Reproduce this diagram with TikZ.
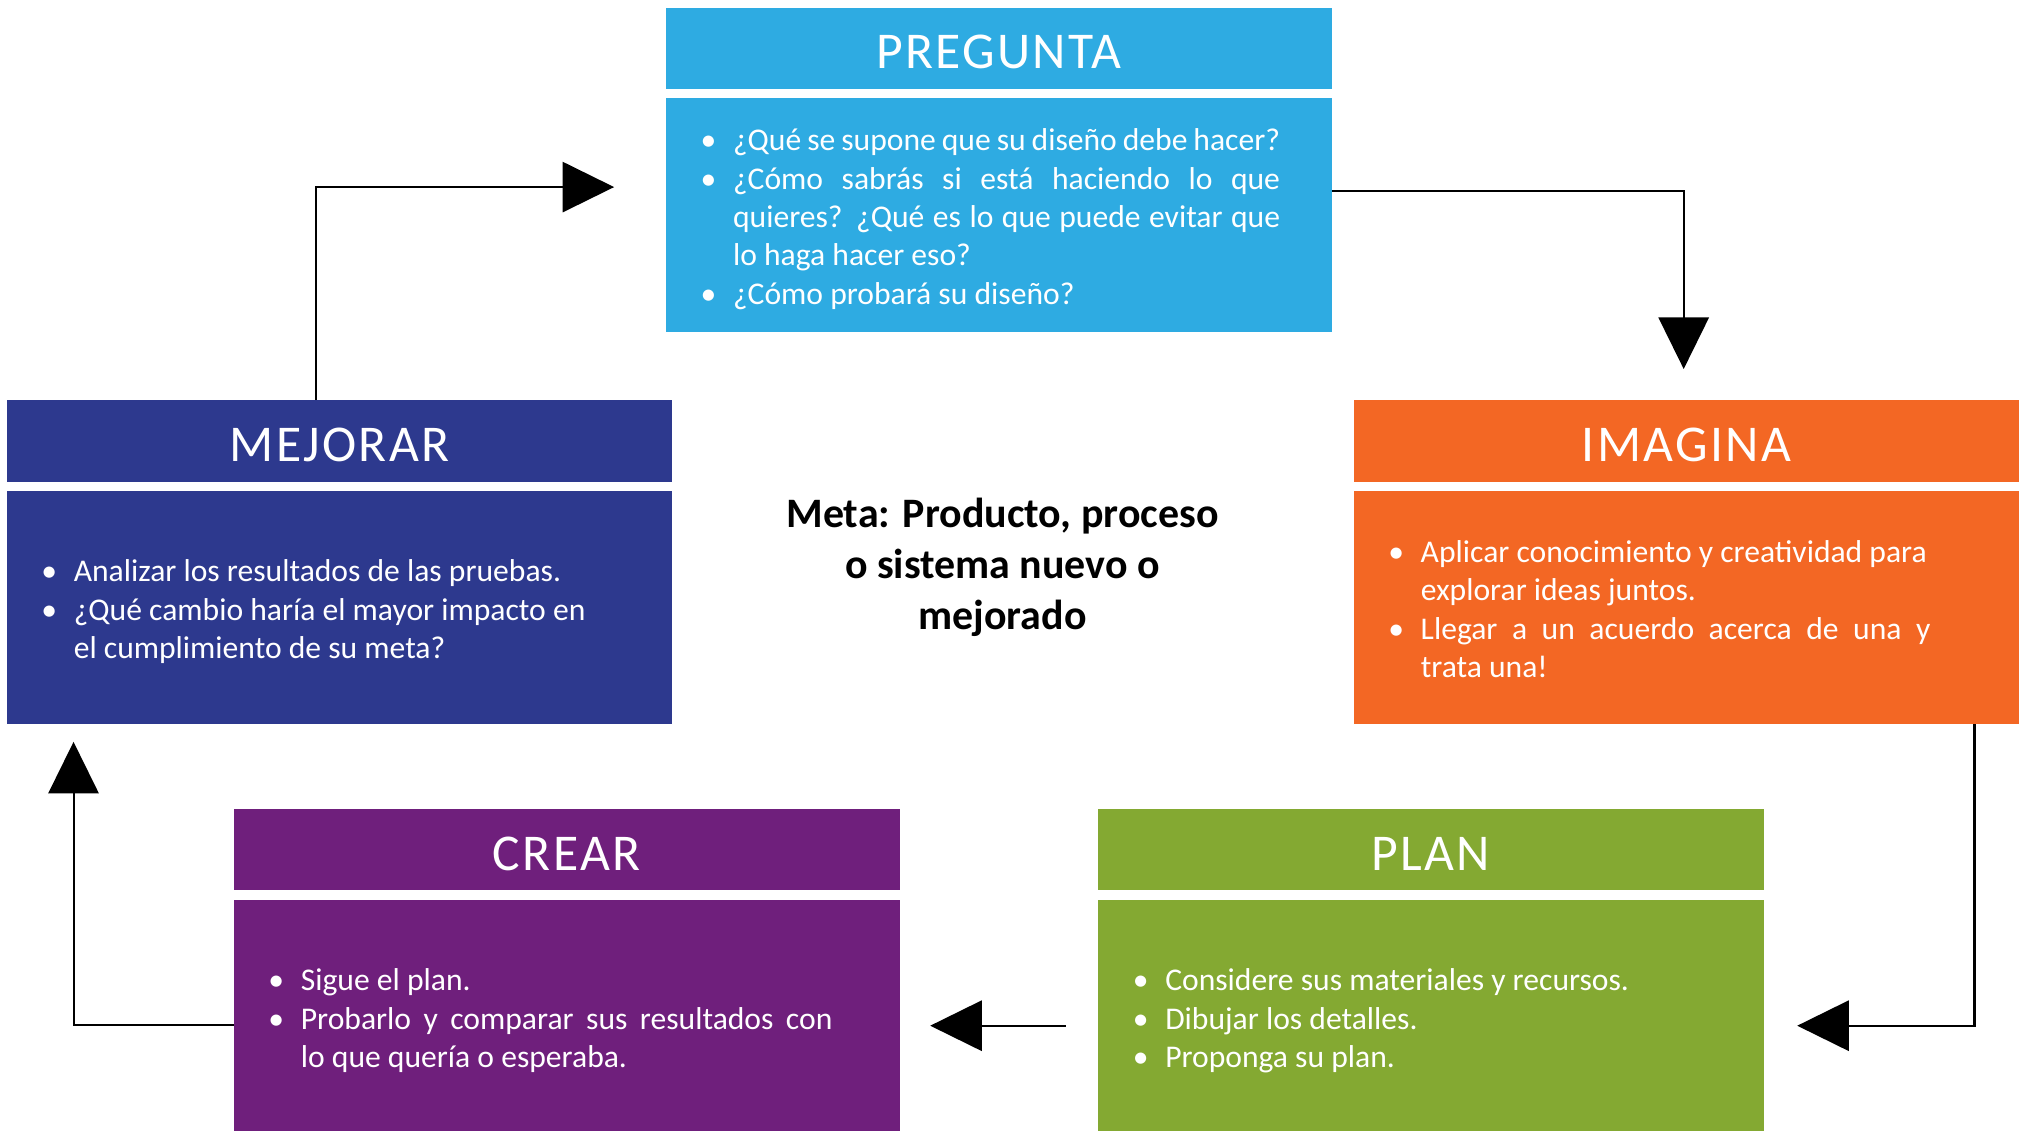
\documentclass[tikz,border=0pt]{standalone}
\usepackage{fontspec}
\setmainfont{Carlito}
\newfontfamily\titlefont[LetterSpace=4.5]{Carlito}
\usetikzlibrary{arrows.meta}
\definecolor{cPreg}{RGB}{46,171,226}
\definecolor{cMej}{RGB}{45,57,142}
\definecolor{cIma}{RGB}{243,103,36}
\definecolor{cPlan}{RGB}{132,169,50}
\definecolor{cCre}{RGB}{111,31,124}
\newcommand\mybul{\llap{\makebox[0pt][c]{\textbullet}\hspace{19pt}}}
\begin{document}
\begin{tikzpicture}[x=1pt,y=-1pt,
  hdr/.style={anchor=north west,minimum width=516pt,minimum height=63pt,inner sep=0pt,
    text=white,font=\titlefont\fontsize{40pt}{48pt}\selectfont,text height=31.5pt,text depth=0pt},
  bodybox/.style={anchor=north west,minimum width=516pt,minimum height=181pt,inner sep=0pt},
  txt/.style={anchor=base west,inner sep=0pt,text=white,font=\fontsize{24.5pt}{29.7pt}\selectfont},
  arr/.style={line width=1.6pt,-{Triangle[length=40pt,width=39pt]}}]
\useasboundingbox (0,0) rectangle (1568,876);
\fill[white] (0,0) rectangle (1568,876);

% PREGUNTA
\node[hdr,fill=cPreg] (pregH) at (516,6) {PREGUNTA};
\node[bodybox,fill=cPreg] (pregB) at (516,76) {};
\node[txt] (pregT) at (568,117) {\vtop{%
  \hbox to 424pt{\mybul ¿Qué se supone que su diseño debe hacer?}
  \hbox to 424pt{\mybul ¿Cómo sabrás si está haciendo lo que}
  \hbox to 424pt{quieres? ¿Qué es lo que puede evitar que}
  \hbox{lo haga hacer eso?}
  \hbox{\mybul ¿Cómo probará su diseño?}}};

% MEJORAR
\node[hdr,fill=cMej] (mejH) at (5,310) {MEJORAR};
\node[bodybox,fill=cMej] (mejB) at (5,380) {};
\node[txt] (mejT) at (57,451) {\vtop{%
  \hbox{\mybul Analizar los resultados de las pruebas.}
  \hbox{\mybul ¿Qué cambio haría el mayor impacto en}
  \hbox{el cumplimiento de su meta?}}};

% IMAGINA
\node[hdr,fill=cIma] (imaH) at (1049,310) {IMAGINA};
\node[bodybox,fill=cIma] (imaB) at (1049,380) {};
\node[txt] (imaT) at (1101,436) {\vtop{%
  \hbox{\mybul Aplicar conocimiento y creatividad para}
  \hbox{explorar ideas juntos.}
  \hbox to 395pt{\mybul Llegar a un acuerdo acerca de una y}
  \hbox{trata una!}}};

% CREAR
\node[hdr,fill=cCre] (creH) at (181,627) {CREAR};
\node[bodybox,fill=cCre] (creB) at (181,697) {};
\node[txt] (creT) at (233,768) {\vtop{%
  \hbox{\mybul Sigue el plan.}
  \hbox to 412pt{\mybul Probarlo y comparar sus resultados con}
  \hbox{lo que quería o esperaba.}}};

% PLAN
\node[hdr,fill=cPlan] (planH) at (851,627) {PLAN};
\node[bodybox,fill=cPlan] (planB) at (851,697) {};
\node[txt] (planT) at (903,768) {\vtop{%
  \hbox{\mybul Considere sus materiales y recursos.}
  \hbox{\mybul Dibujar los detalles.}
  \hbox{\mybul Proponga su plan.}}};

% center goal
\node[anchor=base,inner sep=0pt,font=\bfseries\fontsize{32.5pt}{39.5pt}\selectfont] (meta) at (777,409) {\vtop{%
  \hbox to 420pt{\hfil Meta: Producto, proceso\hfil}
  \hbox to 420pt{\hfil o sistema nuevo o\hfil}
  \hbox to 420pt{\hfil mejorado\hfil}}};

% connectors
\coordinate (t1) at (476,145);
\coordinate (t2) at (1305,286);
\coordinate (t3) at (1393,795);
\coordinate (s4) at (826,795);
\coordinate (t4) at (721,795);
\coordinate (t5) at (57,575);
\draw[arr] ([xshift=240pt]mejH.north west) |- (t1);
\draw[arr] ([yshift=18.5pt]pregB.east) -| (t2);
\draw[arr] ([xshift=-35pt]imaB.south east) |- (t3);
\draw[arr] (s4) -- (t4);
\draw[arr] ([yshift=-6.5pt]creB.west) -| (t5);
\end{tikzpicture}
\end{document}
